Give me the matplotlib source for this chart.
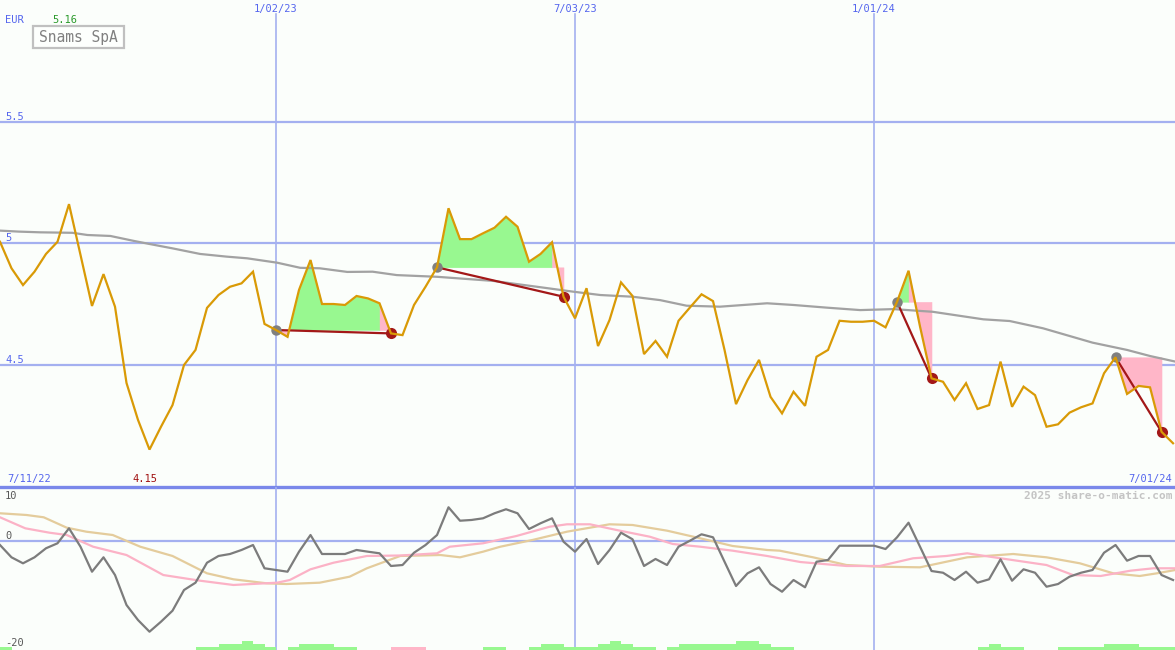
import matplotlib
matplotlib.use('Agg')
import matplotlib.pyplot as plt
import matplotlib.transforms as mtransforms
from matplotlib.patches import Rectangle

W, H = 1175, 650

# ---------------- data ----------------
prices = [5.005, 4.896, 4.827, 4.882, 4.955, 5.005, 5.160, 4.951, 4.741, 4.872,
          4.738, 4.424, 4.272, 4.150, 4.244, 4.333, 4.498, 4.560, 4.733, 4.786,
          4.820, 4.834, 4.882, 4.667, 4.642, 4.614, 4.807, 4.930, 4.749, 4.749,
          4.745, 4.782, 4.772, 4.752, 4.628, 4.621, 4.745, 4.820, 4.900, 5.143,
          5.016, 5.016, 5.040, 5.063, 5.108, 5.067, 4.923, 4.955, 5.003, 4.779,
          4.690, 4.814, 4.576, 4.683, 4.838, 4.782, 4.543, 4.597, 4.532, 4.680,
          4.735, 4.789, 4.761, 4.560, 4.337, 4.436, 4.519, 4.367, 4.299, 4.388,
          4.330, 4.532, 4.560, 4.680, 4.676, 4.676, 4.680, 4.653, 4.758, 4.886,
          4.656, 4.443, 4.429, 4.354, 4.423, 4.317, 4.333, 4.512, 4.326, 4.409,
          4.374, 4.244, 4.254, 4.302, 4.324, 4.340, 4.464, 4.530, 4.379, 4.412,
          4.406, 4.223, 4.176]

ma_x = [0, 1.6, 3.5, 6.3, 7.6, 9.6, 11.6, 13.0, 15.0, 17.4, 19.7, 21.5, 24.1, 26.1,
        27.8, 30.2, 32.4, 34.5, 38.0, 40.6, 42.9, 47.0, 49.8, 52.2, 55.0, 57.4, 59.7,
        62.6, 66.7, 69.0, 71.9, 74.8, 77.7, 81.1, 85.5, 87.8, 90.7, 95.0, 98.0, 100.0,
        102.2]
ma_y = [5.051, 5.047, 5.044, 5.042, 5.033, 5.029, 5.009, 4.996, 4.978, 4.955, 4.944,
        4.937, 4.919, 4.898, 4.896, 4.881, 4.882, 4.868, 4.861, 4.852, 4.844, 4.818,
        4.800, 4.786, 4.779, 4.765, 4.742, 4.738, 4.752, 4.745, 4.734, 4.724, 4.728,
        4.717, 4.686, 4.679, 4.649, 4.590, 4.560, 4.535, 4.512]

trade_entries = [24, 38, 78, 97]
trade_exits = [34, 49, 81, 101]

momentum = [-0.75, -3.05, -4.17, -3.05, -1.36, -0.43, 2.37, -1.07, -5.74, -3.05,
            -6.36, -11.96, -14.77, -16.95, -15.08, -13.03, -9.16, -7.79, -4.06, -2.80,
            -2.43, -1.68, -0.75, -5.10, -5.42, -5.74, -2.00, 1.12, -2.43, -2.43,
            -2.43, -1.68, -2.00, -2.30, -4.67, -4.49, -2.19, -0.75, 1.12, 6.30,
            3.79, 3.93, 4.24, 5.18, 5.93, 5.18, 2.24, 3.31, 4.24, -0.13,
            -2.00, 0.37, -4.30, -1.68, 1.55, 0.32, -4.67, -3.36, -4.49, -1.07,
            0.06, 1.25, 0.69, -3.87, -8.41, -6.04, -4.92, -8.04, -9.48, -7.29,
            -8.65, -3.87, -3.55, -0.88, -0.88, -0.88, -0.88, -1.50, 0.69, 3.42,
            -1.07, -5.61, -5.93, -7.29, -5.74, -7.79, -7.16, -3.42, -7.42, -5.29,
            -5.93, -8.54, -8.04, -6.67, -5.93, -5.42, -2.19, -0.75, -3.68, -2.80,
            -2.80, -6.36, -7.29]

pink_x = [0, 2.2, 4.3, 5.8, 8.1, 11.0, 14.2, 17.4, 20.3, 24.1, 25.2, 27.0, 29.0, 31.9,
          34.8, 38.0, 39.1, 42.0, 44.9, 47.8, 49.3, 51.3, 53.6, 56.5, 58.5, 60.9, 63.7,
          66.7, 69.6, 73.6, 76.5, 79.4, 82.3, 84.1, 87.0, 91.0, 93.3, 95.7, 98.3, 100.3,
          102.2]
pink_y = [4.43, 2.37, 1.55, 1.12, -1.07, -2.62, -6.36, -7.42, -8.22, -7.79, -7.29, -5.29,
          -4.06, -2.80, -2.71, -2.30, -1.07, -0.43, 0.93, 2.67, 3.12, 3.12, 2.06, 0.80,
          -0.56, -1.07, -1.81, -2.80, -3.93, -4.67, -4.67, -3.23, -2.80, -2.30, -3.23,
          -4.49, -6.36, -6.54, -5.55, -5.10, -5.10]

tan_x = [0, 2.3, 3.8, 5.8, 7.5, 9.8, 12.2, 15.0, 18.0, 20.3, 23.2, 24.9, 27.8, 30.4,
         31.9, 34.8, 38.3, 40.0, 42.0, 43.5, 46.3, 49.3, 53.0, 55.0, 58.0, 60.9, 63.7,
         66.7, 67.8, 70.7, 73.6, 76.5, 80.0, 82.3, 84.1, 88.1, 91.0, 93.9, 96.8, 99.1,
         100.6, 102.2]
tan_y = [5.18, 4.86, 4.43, 2.49, 1.74, 1.12, -1.07, -2.80, -6.04, -7.16, -7.91, -8.04,
         -7.79, -6.67, -5.10, -2.80, -2.62, -3.05, -2.00, -1.07, 0.19, 1.74, 3.12, 2.99,
         1.93, 0.50, -0.93, -1.68, -1.81, -3.05, -4.49, -4.80, -4.92, -3.87, -3.05,
         -2.43, -3.05, -4.17, -6.04, -6.54, -6.04, -5.42]

bar_levels = [1] + [0] * 16 + [1, 1, 2, 2, 3, 2, 1] + [0] + [1, 2, 2, 2, 1, 1] + \
             [0, 0, 0] + [-1, -1, -1] + [0] * 5 + [1, 1] + [0, 0] + \
             [1, 2, 2, 1, 1, 1, 2, 3, 2, 1, 1] + [0] + \
             [1, 2, 2, 2, 2, 2, 3, 3, 2, 1, 1] + [0] * 16 + [1, 2, 1, 1] + [0, 0, 0] + \
             [1, 1, 1, 1, 2, 2, 2, 1, 1, 1, 1]

date_ticks = [24, 50, 76]
date_labels = ['1/02/23', '7/03/23', '1/01/24']
start_label = '7/11/22'
end_label = '7/01/24'
price_levels = [5.5, 5.0, 4.5]
price_level_labels = ['5.5', '5', '4.5']
osc_levels = [10, 0, -20]
osc_level_labels = ['10', '0', '-20']
currency = 'EUR'
title = 'Snams SpA'
watermark = '2025 share-o-matic.com'

# ---------------- style ----------------
BG = '#fbfefb'
GRID = '#a4b0f0'
SEP = '#7a88ea'
BLUE_TXT = '#5566ee'
PRICE_C = '#d99a06'
MA_C = '#a2a2a2'
GREEN_F = '#98f890'
PINK_F = '#ffb6c8'
DRED = '#a31818'
FONT = 'DejaVu Sans Mono'

fig = plt.figure(figsize=(W / 100, H / 100), dpi=100, facecolor=BG)
ax = fig.add_axes([0, 163 / H, 1, 487 / H])
ax2 = fig.add_axes([0, 0, 1, 163 / H])
for a in (ax, ax2):
    a.set_facecolor(BG)
    a.set_xlim(0, 102.17)
    a.axis('off')
ax.set_ylim(3.996, 6.0)
ax2.set_ylim(-20.37, 10.09)

n = len(prices)
xs = list(range(n))

# grid
for lv in price_levels:
    ax.axhline(lv, color=GRID, lw=1.6, zorder=1)
for t in date_ticks:
    ax.axvline(t, ymin=0, ymax=(487 - 14) / 487, color=GRID, lw=1.2, zorder=1)
    ax2.axvline(t, color=GRID, lw=1.2, zorder=1)
ax2.axhline(0, color=GRID, lw=1.6, zorder=1)

# trade fills: consecutive segments of the same colour merged into one polygon
for e, x in zip(trade_entries, trade_exits):
    lvl = prices[e]
    cols = [GREEN_F if prices[i + 1] >= lvl else PINK_F for i in range(e, x)]
    start = e
    for k in range(1, len(cols) + 1):
        if k == len(cols) or cols[k] != cols[k - 1]:
            end = e + k
            seg_x = list(range(start, end + 1))
            ax.fill_between(seg_x, prices[start:end + 1], lvl, color=cols[k - 1],
                            lw=0.3, edgecolor=cols[k - 1], zorder=2)
            start = end

ax.plot(ma_x, ma_y, color=MA_C, lw=1.6, zorder=3)

for e, x in zip(trade_entries, trade_exits):
    ax.plot([e, x], [prices[e], prices[x]], color=DRED, lw=1.6, zorder=4)
    ax.plot([e], [prices[e]], 'o', color='#808080', ms=7.5, mec='none', zorder=4)
    ax.plot([x], [prices[x]], 'o', color=DRED, ms=8, mec='none', zorder=4)

ax.plot(xs, prices, color=PRICE_C, lw=1.6, zorder=5, solid_joinstyle='miter')

# separator line
ax.axhline(3.996, color=SEP, lw=2.4, zorder=6, clip_on=False)

# lower panel
unit = 0.56
bottom = -20.37
for i, lv in enumerate(bar_levels):
    if lv != 0:
        ax2.bar(i, abs(lv) * unit, width=1, align='edge', bottom=bottom,
                color=GREEN_F if lv > 0 else PINK_F, lw=0, zorder=2)
ax2.plot(tan_x, tan_y, color='#e4cc9c', lw=1.6, zorder=3)
ax2.plot(pink_x, pink_y, color='#fbb2c6', lw=1.6, zorder=3)
ax2.plot(range(len(momentum)), momentum, color='#7c7c7c', lw=1.6, zorder=4)

# ---------------- text ----------------
def ftext(px, py, s, **kw):
    fig.text(px / W, 1 - py / H, s, family=FONT, **kw)

ytr = mtransforms.offset_copy(ax.get_yaxis_transform(), fig=fig, x=0, y=5, units='dots')
for lv, lab in zip(price_levels, price_level_labels):
    ax.text(5 / W, lv, lab, transform=ytr, color=BLUE_TXT, fontsize=7.5,
            family=FONT, va='center', ha='left')

for lv, lab in zip(osc_levels, osc_level_labels):
    off = -9 if lv == max(osc_levels) else 5
    tr = mtransforms.offset_copy(ax2.get_yaxis_transform(), fig=fig, x=0, y=off, units='dots')
    ax2.text(5 / W, lv, lab, transform=tr, color='#585858', fontsize=7.5,
             family=FONT, va='center', ha='left')

xtr = ax.get_xaxis_transform()
for t, lab in zip(date_ticks, date_labels):
    ax.text(t, 1 - 9 / 487, lab, transform=xtr, color=BLUE_TXT, fontsize=7.5,
            family=FONT, ha='center', va='center')

imax = prices.index(max(prices))
imin = prices.index(min(prices))
ax.text(imax - 0.4, 1 - 20 / 487, f'{max(prices):.2f}', transform=xtr, color='#2a9a2a',
        fontsize=7.5, family=FONT, ha='center', va='center')
ax.text(imin - 0.4, 1 - 479 / 487, f'{min(prices):.2f}', transform=xtr, color='#a01010',
        fontsize=7.5, family=FONT, ha='center', va='center')

ftext(5, 20, currency, color=BLUE_TXT, fontsize=7.5, va='center', ha='left')
ftext(7, 479, start_label, color=BLUE_TXT, fontsize=7.5, va='center', ha='left')
ftext(1172, 479, end_label, color=BLUE_TXT, fontsize=7.5, va='center', ha='right')
ftext(1172, 496, watermark, color='#c4c4c4', fontsize=8, va='center', ha='right',
      fontweight='bold')

fig.patches.append(Rectangle((33 / W, 1 - 48 / H), 91 / W, 22 / H, transform=fig.transFigure,
                             facecolor='#fdfffd', edgecolor='#c0c0c0', lw=1.6, zorder=10))
ftext(78, 37.5, title, color='#808080', fontsize=10.5, va='center', ha='center', zorder=11)

fig.savefig('out.png', dpi=100, facecolor=BG)
